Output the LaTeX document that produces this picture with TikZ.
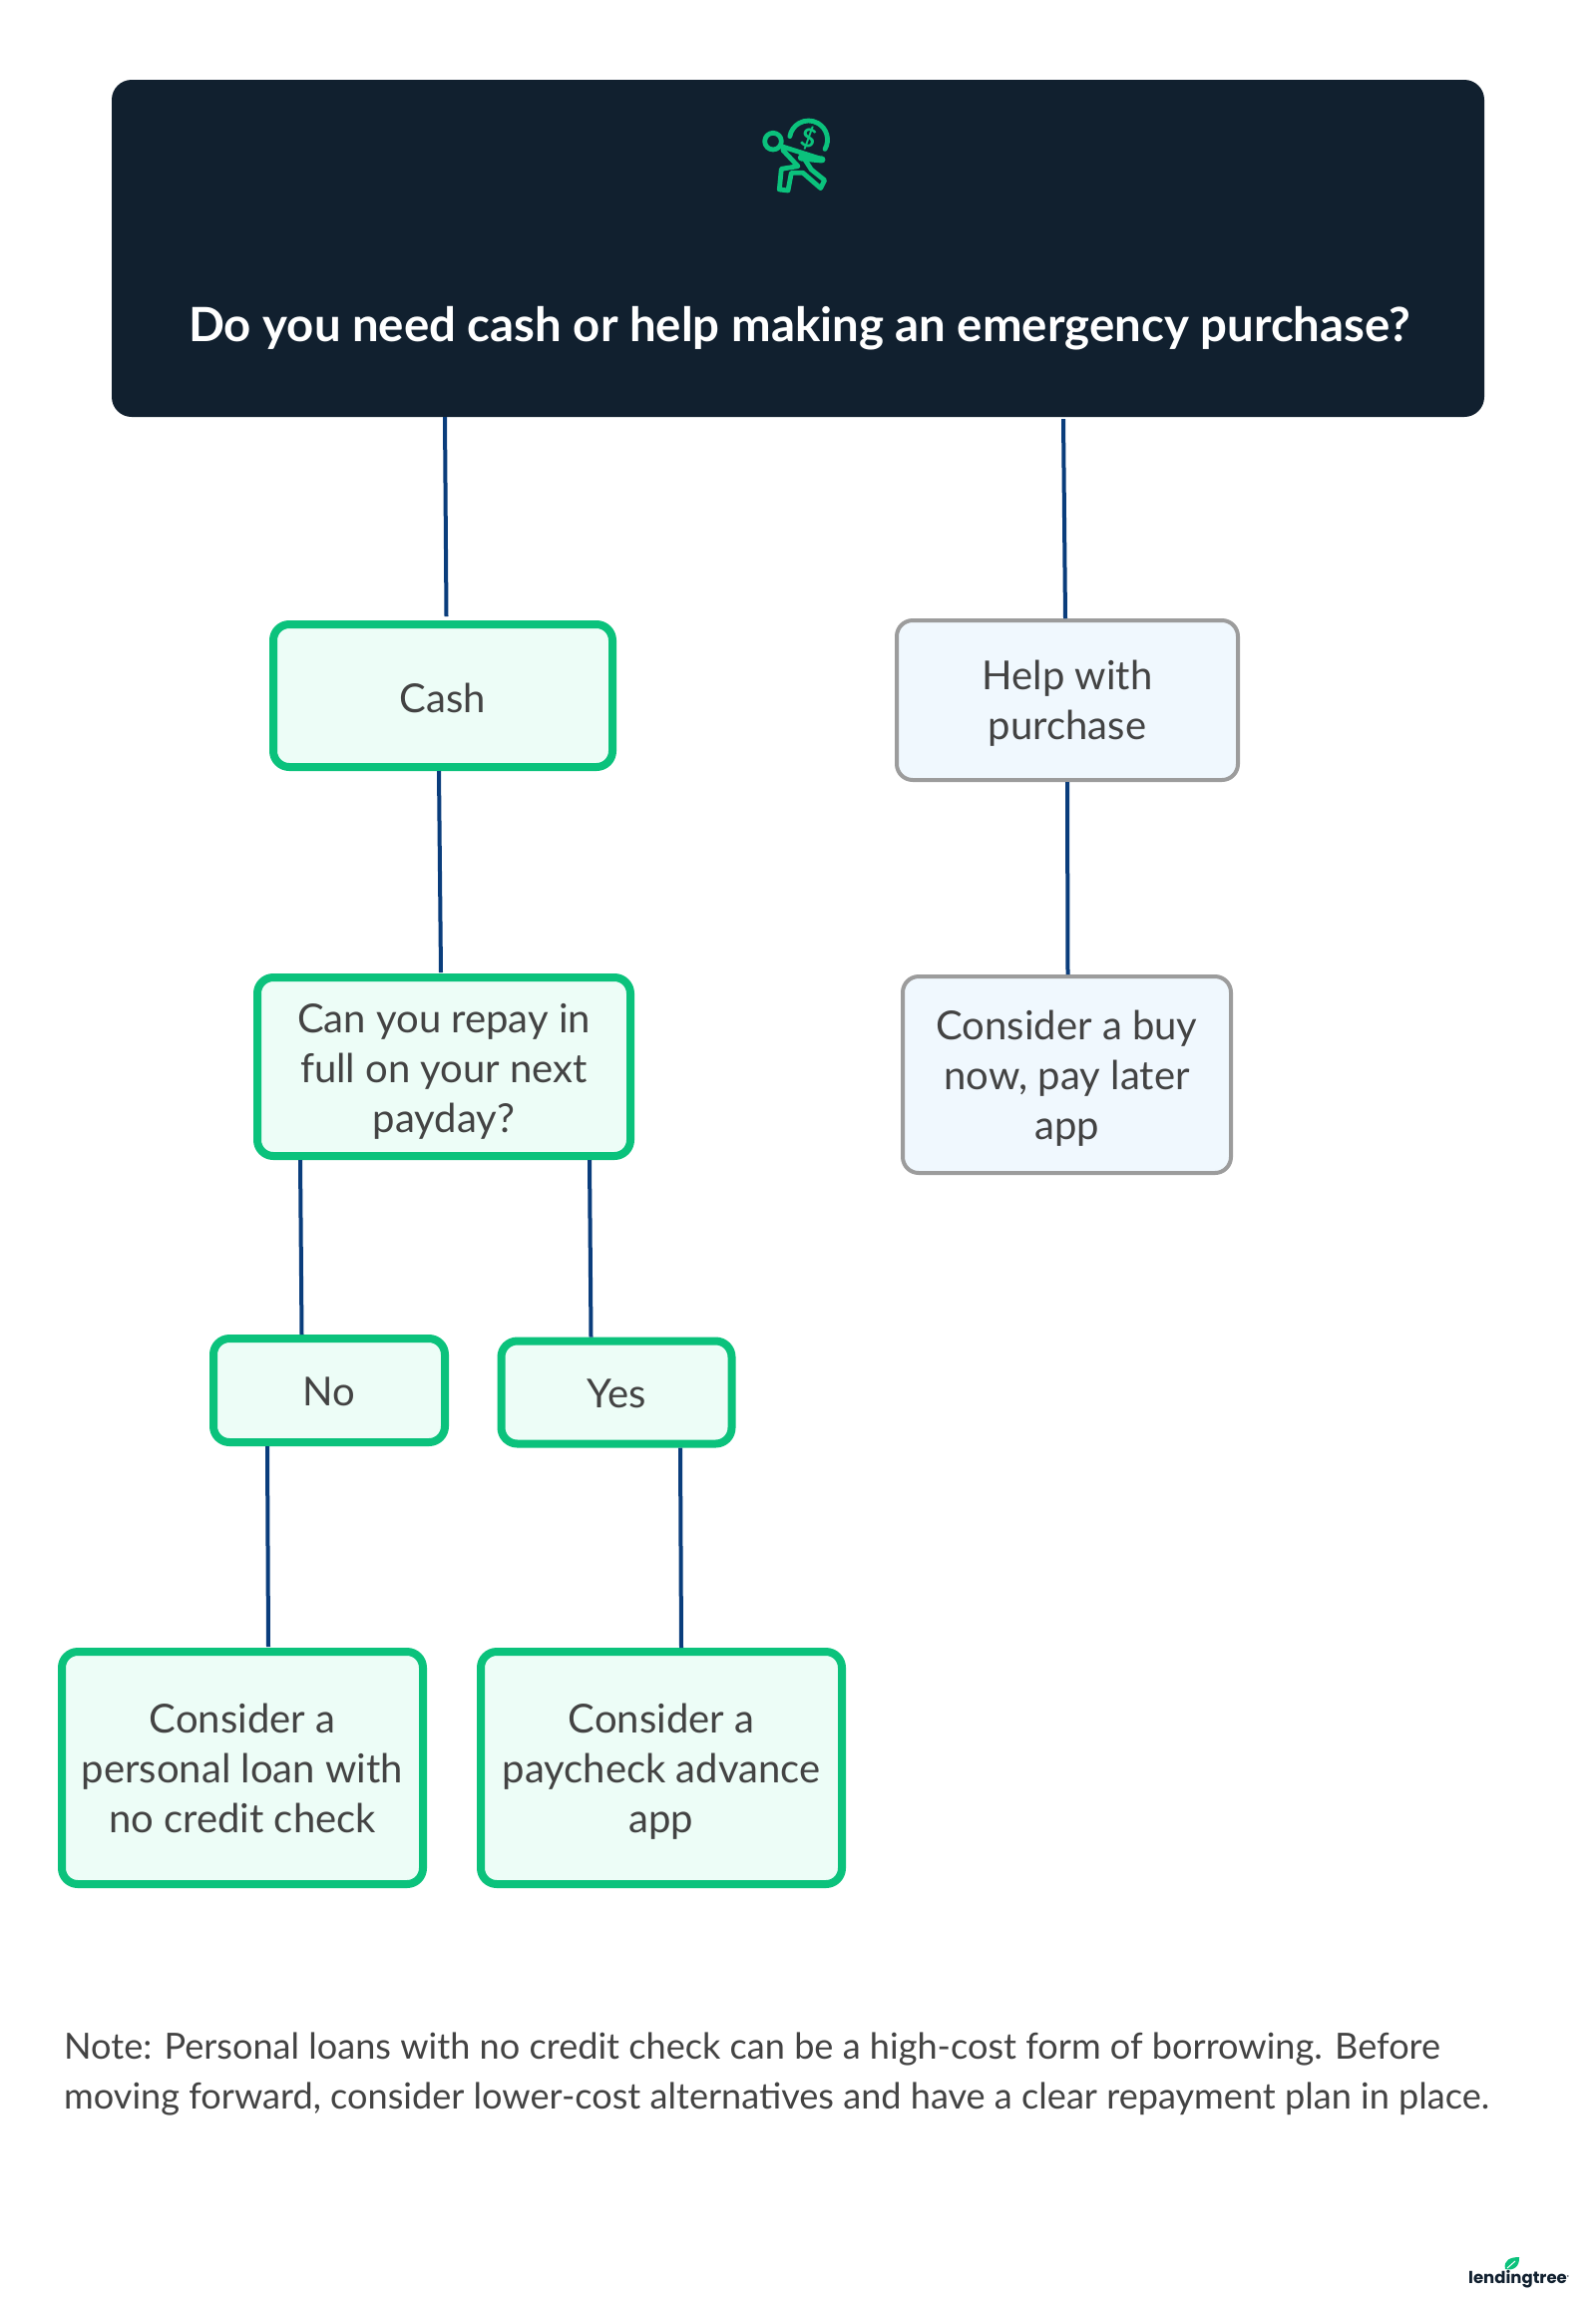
\documentclass[tikz,border=0pt]{standalone}
\usepackage{fontspec}
\setmainfont{Lato}
\newfontfamily\logofont{Poppins}
\definecolor{headnavy}{HTML}{11202F}
\definecolor{linkblue}{HTML}{0A3D7C}
\definecolor{boxgreen}{HTML}{0BC27C}
\definecolor{fillgreen}{HTML}{EDFDF7}
\definecolor{boxgray}{HTML}{9C9C9C}
\definecolor{fillblue}{HTML}{F0F8FE}
\definecolor{textgray}{HTML}{434343}
\usetikzlibrary{positioning, calc}
\tikzset{
  textdrop/.style={execute at begin node={\rule{0pt}{#1}}},
  boxtext/.style={align=center, text=textgray, font=\fontsize{40}{50}\selectfont, textdrop=39.5pt, execute at end node={\rule[-9.5pt]{0pt}{0pt}}},
  greenbox/.style={boxtext, draw=boxgreen, fill=fillgreen, line width=8pt, rounded corners=16pt},
  graybox/.style={boxtext, draw=boxgray, fill=fillblue, line width=4pt, rounded corners=16pt},
  link/.style={draw=linkblue, line width=4pt}
}
\begin{document}
\begin{tikzpicture}[x=1pt, y=-1pt]
  \useasboundingbox (0,0) rectangle (1600,2308);
  \fill[white] (0,0) rectangle (1600,2308);

  % Header
  \node[fill=headnavy, rounded corners=20pt, minimum width=1376pt, minimum height=338pt, inner sep=0pt] (head) at (800,249) {};
  \node[anchor=base, text=white, font=\fontsize{47.35}{58}\selectfont\bfseries, inner sep=0pt] (title) at (801.5,342) {Do you need cash or help making an emergency purchase?};

  % Icon
  \begin{scope}[shift={(720,90)}, x=0.3333pt, y=-0.3333pt, draw=boxgreen, line width=4.8pt, line join=round, line cap=round]
    \draw (165,155) circle [radius=25];
    \draw (321,178.5) arc [start angle=30, end angle=-170, radius=57];
    \node[text=boxgreen, rotate=-15, font=\fontsize{26}{26}\selectfont\bfseries, inner sep=0pt] (dollar) at (272,145) {\$};
    \draw (190,170) -- (300,205);
    \draw[line width=7pt] (250,204) -- (312,210);
    \draw (195,182) -- (240,230) -- (190,238) -- (184,300) -- (210,303) -- (220,250) -- (255,250) -- (308,296) -- (320,272) -- (280,240) -- (262,212);
  \end{scope}

  % Decision boxes
  \node[greenbox, textdrop=43pt, minimum width=340pt, minimum height=143pt] (cash) at (444,697.5) {Cash};
  \node[graybox, textdrop=88pt, minimum width=342pt, minimum height=160pt] (help) at (1070,702) {Help with\\purchase};
  \node[greenbox, textdrop=142pt, minimum width=374pt, minimum height=179pt] (repay) at (445,1069.5) {Can you repay in\\full on your next\\payday?};
  \node[graybox, textdrop=138.5pt, minimum width=329pt, minimum height=197pt] (bnpl) at (1069.5,1077.5) {Consider a buy\\now, pay later\\app};
  \node[greenbox, minimum width=232pt, minimum height=104pt] (no) at (330,1394) {No};
  \node[greenbox, minimum width=231pt, minimum height=103pt] (yes) at (618,1396) {Yes};
  \node[greenbox, textdrop=138.5pt, minimum width=362pt, minimum height=233pt] (loan) at (243,1772.5) {Consider a\\personal loan with\\no credit check};
  \node[greenbox, textdrop=138.5pt, minimum width=362pt, minimum height=233pt] (advance) at (663,1772.5) {Consider a\\paycheck advance\\app};

  % Connectors
  \draw[link] ([xshift=-354pt]head.south) -- ([xshift=3.5pt, yshift=4pt]cash.north);
  \draw[link] ([xshift=266pt, yshift=-2pt]head.south) -- ([xshift=-2pt]help.north);
  \draw[link] ([xshift=-4pt]cash.south) -- ([xshift=-3pt, yshift=1pt]repay.north);
  \draw[link] (help.south) -- ([xshift=1pt]bnpl.north);
  \draw[link] ([xshift=-144pt]repay.south) -- ([xshift=-27.5pt]no.north);
  \draw[link] ([xshift=146pt]repay.south) -- ([xshift=-25.5pt]yes.north);
  \draw[link] ([xshift=-62pt]no.south) -- ([xshift=26pt, yshift=1pt]loan.north);
  \draw[link] ([xshift=64pt]yes.south) -- ([xshift=20pt]advance.north);

  % Footnote
  \node[anchor=west, align=left, text=textgray, font=\fontsize{36.1}{50}\selectfont, inner sep=0pt] (note) at (64,2079.5) {Note: Personal loans with no credit check can be a high-cost form of borrowing. Before\\moving forward, consider lower-cost alternatives and have a clear repayment plan in place.};

  % Logo
  \node[anchor=base west, text=headnavy, font=\logofont\fontsize{16.5}{20}\selectfont\bfseries, inner sep=0pt] (logo) at (1472,2289) {lendingtree\raisebox{5pt}{\fontsize{4}{4}\selectfont ®}};
  \fill[boxgreen] (1509,2275) .. controls (1507,2266) and (1514,2263) .. (1523,2263) .. controls (1523.5,2272) and (1518,2277) .. (1509,2275);
  \draw[white, line width=1pt] (1511,2274) -- (1519,2267);
\end{tikzpicture}
\end{document}
